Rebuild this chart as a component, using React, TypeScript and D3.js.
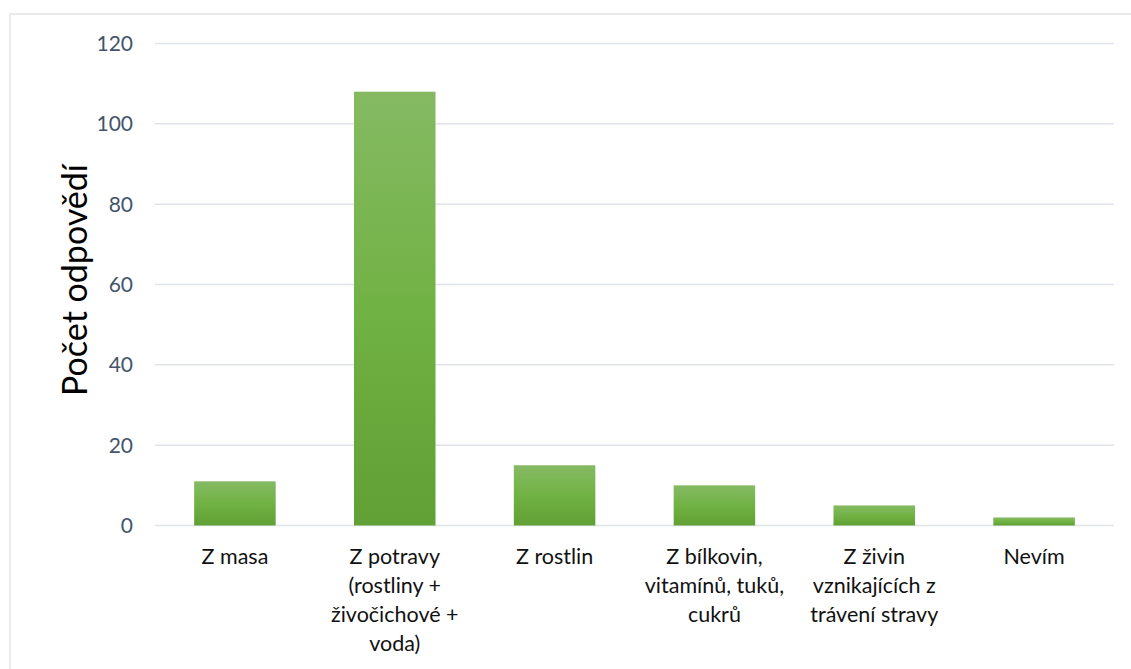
import React from "react";
import * as d3 from "d3";

const categories = [
  "Z masa",
  "Z potravy (rostliny + živočichové + voda)",
  "Z rostlin",
  "Z bílkovin, vitamínů, tuků, cukrů",
  "Z živin vznikajících z trávení stravy",
  "Nevím",
];
const categoryLines = [
  ["Z masa"],
  ["Z potravy", "(rostliny +", "živočichové +", "voda)"],
  ["Z rostlin"],
  ["Z bílkovin,", "vitamínů, tuků,", "cukrů"],
  ["Z živin", "vznikajících z", "trávení stravy"],
  ["Nevím"],
];
const values = [11, 108, 15, 10, 5, 2];
const yTicks = [0, 20, 40, 60, 80, 100, 120];
const yTitle = "Počet odpovědí";

const W = 1131;
const H = 669;
const plot = { left: 155, right: 1114, top: 43.5, bottom: 525.5 };
const FONT = "Lato, 'Open Sans', sans-serif";

export default function App() {
  const x = d3
    .scaleBand<string>()
    .domain(categories)
    .range([plot.left, plot.right])
    .paddingInner(0.49)
    .paddingOuter(0.245);
  const y = d3.scaleLinear().domain([0, 120]).range([plot.bottom, plot.top]);

  return (
    <svg
      width={W}
      height={H}
      style={{ position: "fixed", left: 0, top: 0, background: "#fff" }}
    >
      <defs>
        <linearGradient id="barGrad" x1="0" y1="0" x2="0" y2="1">
          <stop offset="0%" stopColor="#85ba63" />
          <stop offset="50%" stopColor="#71b244" />
          <stop offset="100%" stopColor="#61a034" />
        </linearGradient>
      </defs>
      <rect x={10} y={14} width={1300} height={1000} fill="#fff" stroke="#e2e5ea" strokeWidth={1.5} />
      {yTicks.map((t) => (
        <g key={t}>
          <line
            x1={plot.left}
            x2={plot.right}
            y1={y(t)}
            y2={y(t)}
            stroke="#e0e4ea"
            strokeWidth={1.5}
          />
          <text
            x={133}
            y={y(t)}
            dy="0.36em"
            textAnchor="end"
            fontFamily={FONT}
            fontSize={21}
            fill="#44546a"
          >
            {t}
          </text>
        </g>
      ))}
      {categories.map((c, i) => (
        <rect
          key={c}
          x={x(c)}
          y={y(values[i])}
          width={x.bandwidth()}
          height={y(0) - y(values[i])}
          fill="url(#barGrad)"
        />
      ))}
      {categories.map((c, i) => (
        <text
          key={c}
          x={(x(c) as number) + x.bandwidth() / 2}
          textAnchor="middle"
          fontFamily={FONT}
          fontSize={21.5}
          fill="#111"
        >
          {categoryLines[i].map((ln, j) => (
            <tspan key={j} x={(x(c) as number) + x.bandwidth() / 2} y={564 + j * 29}>
              {ln}
            </tspan>
          ))}
        </text>
      ))}
      <text
        transform={`translate(87,280) rotate(-90)`}
        textAnchor="middle"
        fontFamily={FONT}
        fontSize={34}
        fill="#000"
      >
        {yTitle}
      </text>
    </svg>
  );
}
